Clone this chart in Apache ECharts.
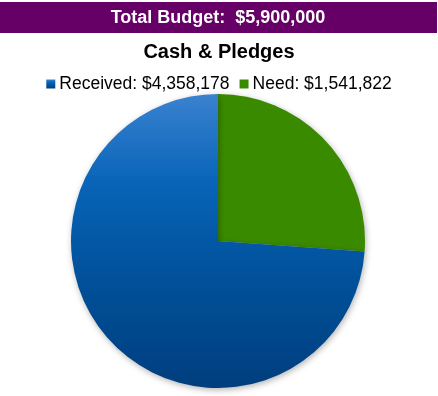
<!DOCTYPE html>
<html><head><meta charset="utf-8">
<script src="https://cdn.jsdelivr.net/npm/echarts@6/dist/echarts.min.js"></script>
<style>html,body{margin:0;padding:0;background:#fff}#c{width:438px;height:396px}</style>
</head><body><div id="c"></div>
<script>
const bannerText = 'Total Budget:  $5,900,000';
const titleText = 'Cash & Pledges';
const categories = ['Received: $4,358,178', 'Need: $1,541,822'];
const values = [4358178, 1541822];
const colors = ['#0a5aa8', '#3a8a00'];

const chart = echarts.init(document.getElementById('c'));
const blueGrad = new echarts.graphic.LinearGradient(0, 0, 0, 1, [
  {offset: 0, color: '#3a82d0'},
  {offset: 0.3, color: '#0864b8'},
  {offset: 0.6, color: '#01529c'},
  {offset: 1, color: '#003e7e'}
]);
chart.setOption({
  animation: false,
  graphic: [
    {type: 'rect', shape: {x: 0, y: 2, width: 437, height: 31}, style: {fill: '#660066'}, z: 0},
    {type: 'text', x: 218, y: 18, style: {text: bannerText, fill: '#fff', font: 'bold 18px "Liberation Sans", Arial, sans-serif', textAlign: 'center', textVerticalAlign: 'middle'}, z: 1}
  ],
  title: {
    text: titleText, left: 'center', top: 37,
    textStyle: {fontFamily: '"Liberation Sans", Arial, sans-serif', fontWeight: 'bold', fontSize: 20, color: '#000'}
  },
  legend: {
    data: categories, top: 75, left: 'center', padding: 0,
    itemWidth: 9, itemHeight: 9, itemGap: 10, icon: 'rect',
    textStyle: {fontFamily: '"Liberation Sans", Arial, sans-serif', fontSize: 17.5, color: '#000', padding: [0,0,0,-1]}
  },
  series: [{
    type: 'pie', center: [218, 241], radius: 147, startAngle: 90, clockwise: true,
    label: {show: false}, labelLine: {show: false},
    emphasis: {disabled: true},
    itemStyle: {shadowBlur: 6, shadowOffsetY: 2, shadowOffsetX: 1, shadowColor: 'rgba(0,0,0,0.3)'},
    data: [
      {name: categories[1], value: values[1], itemStyle: {color: colors[1]}},
      {name: categories[0], value: values[0], itemStyle: {color: blueGrad}}
    ]
  }]
});
</script></body></html>
